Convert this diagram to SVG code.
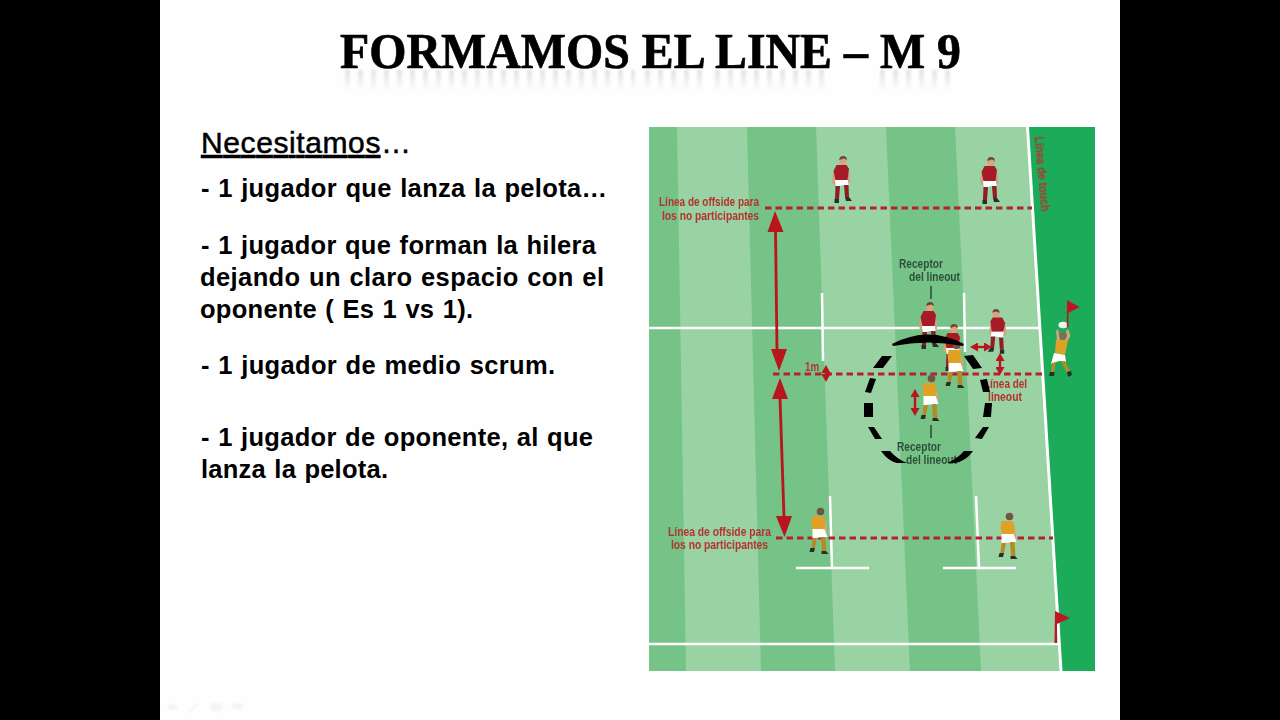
<svg xmlns="http://www.w3.org/2000/svg" width="1280" height="720" viewBox="0 0 1280 720">
<style>
.body{font-family:"Liberation Sans",Arial,sans-serif;font-weight:700;font-size:25.500px;word-spacing:1px;fill:#000}
.title{font-family:"Liberation Serif","Times New Roman",serif;font-weight:700;font-size:50px;stroke:#000;stroke-width:.7}
.lab{font-family:"Liberation Sans",Arial,sans-serif;font-weight:700;font-size:12.500px}
.red{fill:#b5332f}.dk{fill:#2f4f3c}
.dash{stroke:#b5202f;stroke-width:3;stroke-dasharray:6.500 4;fill:none}
.wl{stroke:#fff;stroke-width:2.500;fill:none}
.ar{stroke:#b8141f;stroke-width:2.800;fill:none}
.arf{fill:#b8141f}
.sa{stroke:#b8141f;stroke-width:2.400;fill:none;marker-start:url(#sh);marker-end:url(#sh)}
.tick{stroke:#2f4f3c;stroke-width:1.600}
</style>
<defs>
<marker id="sh" markerWidth="8" markerHeight="9" refX="4" refY="4.500" orient="auto-start-reverse" markerUnits="userSpaceOnUse" viewBox="0 0 8 9"><path d="M0 0L8 4.500L0 9Z" fill="#b8141f"/></marker>
<linearGradient id="rf" gradientUnits="userSpaceOnUse" x1="0" y1="70" x2="0" y2="92"><stop offset="0" stop-color="#777" stop-opacity=".2"/><stop offset="1" stop-color="#777" stop-opacity="0"/></linearGradient>
<filter id="soft" x="-2%" y="-2%" width="104%" height="104%"><feGaussianBlur stdDeviation="0.45"/></filter>
<filter id="blur1" x="-5%" y="-20%" width="110%" height="140%"><feGaussianBlur stdDeviation="0.8"/></filter>
<filter id="blurR" filterUnits="userSpaceOnUse" x="330" y="60" width="640" height="40"><feGaussianBlur stdDeviation="1.200"/></filter>
<g id="pr">
<path d="M-2 8L4 8L4 11L-2 11Z" fill="#d9a57f"/>
<circle cx="2" cy="4.500" r="3.800" fill="#d9a57f"/><path d="M-1.800 4Q-1.500 0 2 0Q6 0 5.800 4L3 2.500Z" fill="#6b4a35"/>
<path d="M-5 10L-8.500 20L-8.500 28L-6 28L-5 20ZM6 11L9 20L9 27L6.500 27L5 20Z" fill="#d2a07d"/>
<path d="M-4.500 9L5.500 9L8 13L6.500 24L-5.500 24L-7.500 15Z" fill="#a51c28"/>
<path d="M-6 24L7 24L7.500 30L2 29L-5 31Z" fill="#fff"/>
<path d="M-5.500 30L-1 30L-2 43L-6 43ZM3 29L7.500 29L8 41L4 41Z" fill="#8f1a25"/>
<path d="M-6.500 43L-2 43L-2 47L-6.500 47ZM4 41L8 41L11 45L5 45Z" fill="#2a2f2b"/>
</g>
<g id="py">
<circle cx="1.500" cy="4.500" r="3.800" fill="#6e5643"/>
<path d="M4 11L7.500 18L8.500 27L6.500 27L4.500 20Z" fill="#d9a57f"/>
<path d="M-6.500 9L4.500 9L6.500 14L5.500 23L-6.500 23L-7.500 15Z" fill="#dfa126"/>
<path d="M-6.500 22L5.500 22L8.500 30L-6.500 31Z" fill="#fff"/>
<path d="M-6.500 31L-2 31L-4 41L-7.500 41ZM2 30L6.500 30L7.500 44L3 44Z" fill="#b48c28"/>
<path d="M-8.500 41L-4 41L-5 45L-9.500 45ZM2.500 44L7 44L9.500 47L2.500 47Z" fill="#2a2f2b"/>
</g>
</defs>
<rect width="1280" height="720" fill="#000"/>
<rect x="160" width="960" height="720" fill="#fefefe"/>
<g id="title">
<path d="M345 81H635M645 81H705M715 81H830M880 81H955" stroke="url(#rf)" stroke-width="22" stroke-dasharray="5 8" fill="none" filter="url(#blurR)"/>
<text class="title" x="340" y="68" textLength="621" lengthAdjust="spacingAndGlyphs">FORMAMOS EL LINE – M 9</text>
</g>
<g id="text">
<text class="body" x="201" y="153" style="font-weight:400;font-size:30px;word-spacing:0;stroke:#000;stroke-width:.5;text-decoration-thickness:3px" textLength="210" lengthAdjust="spacing"><tspan text-decoration="underline">Necesitamos</tspan>…</text>
<text class="body" x="201" y="196.500" textLength="406" lengthAdjust="spacing">- 1 jugador que lanza la pelota…</text>
<text class="body" x="201" y="254" textLength="395" lengthAdjust="spacing">- 1 jugador que forman la hilera</text>
<text class="body" x="200" y="286" textLength="404" lengthAdjust="spacing">dejando un claro espacio con el</text>
<text class="body" x="200" y="318" textLength="273" lengthAdjust="spacing">oponente ( Es 1 vs 1).</text>
<text class="body" x="201" y="374" textLength="354" lengthAdjust="spacing">- 1 jugador de medio scrum.</text>
<text class="body" x="201" y="446" textLength="392" lengthAdjust="spacing">- 1 jugador de oponente, al que</text>
<text class="body" x="201" y="478" textLength="187" lengthAdjust="spacing">lanza la pelota.</text>
</g>
<g id="nav" fill="#f4f4f4" filter="url(#blur1)">
<path d="M167 707L172 703L172 705L178 705L178 709L172 709L172 711Z"/>
<path d="M188 711L197 703L199 704L190 712Z"/>
<rect x="211" y="703" width="11" height="8"/>
<path d="M232 703L238 703L238 701L244 707L238 711L238 709L232 709Z"/>
</g>
<g id="field" filter="url(#soft)">
<rect x="649" y="127" width="446" height="544" fill="#1dab58"/>
<path d="M649 127H1027L1061 671H649Z" fill="#74c386"/>
<path d="M677 127H747L761 671H686ZM816 127H886L910 671H835ZM955 127H1027L1061 671H981Z" fill="#99d2a3"/>
<g class="wl">
<path d="M1027.500 127L1061 671" stroke-width="3"/>
<path d="M649 328H1040M649 644H1058"/>
<path d="M822 293L823 361M964 293L965 352M830 496L832 568M976 496L979 568M796 568H869M943 568H1016"/>
</g>
</g>
<g id="labels" filter="url(#soft)">
<text class="lab red" x="659" y="206" textLength="100" lengthAdjust="spacingAndGlyphs">Línea de offside para</text>
<text class="lab red" x="662" y="220" textLength="97" lengthAdjust="spacingAndGlyphs">los no participantes</text>
<text class="lab red" x="668" y="535.500" textLength="103" lengthAdjust="spacingAndGlyphs">Línea de offside para</text>
<text class="lab red" x="671" y="549" textLength="97" lengthAdjust="spacingAndGlyphs">los no participantes</text>
<text class="lab red" transform="translate(1034.500 137) rotate(85)" textLength="75" lengthAdjust="spacingAndGlyphs">Línea de touch</text>
<text class="lab dk" x="899" y="267.500" textLength="44" lengthAdjust="spacingAndGlyphs">Receptor</text>
<text class="lab dk" x="909" y="281" textLength="51" lengthAdjust="spacingAndGlyphs">del lineout</text>
<text class="lab dk" x="897" y="450.500" textLength="44" lengthAdjust="spacingAndGlyphs">Receptor</text>
<text class="lab dk" x="906" y="464" textLength="51" lengthAdjust="spacingAndGlyphs">del lineout</text>
<text class="lab red" x="805" y="371" textLength="14" lengthAdjust="spacingAndGlyphs">1m</text>
<text class="lab red" x="984" y="387.500" textLength="43" lengthAdjust="spacingAndGlyphs">Línea del</text>
<text class="lab red" x="988" y="401" textLength="34" lengthAdjust="spacingAndGlyphs">lineout</text>
</g>
<g id="connectors-lines" filter="url(#soft)">
<path class="dash" d="M765 208H1032M773 374H1042M776 538H1053"/>
</g>
<g id="players" filter="url(#soft)">
<use id="player-r1" href="#pr" x="841" y="156"/>
<use id="player-r2" href="#pr" x="989" y="157"/>
<use id="player-r3" href="#pr" x="928" y="302"/>
<use id="player-r4" href="#pr" x="952" y="324"/>
<use id="player-r5" href="#pr" transform="translate(998 309) scale(-.950 .950)"/>
<use id="player-y1" href="#py" x="955" y="341"/>
<use id="player-y2" href="#py" x="930" y="374"/>
<use id="player-y3" href="#py" x="819" y="507"/>
<use id="player-y4" href="#py" x="1008" y="512"/>
<g id="thrower">
<path d="M1057 340L1056 331L1058 329L1060 340ZM1068 340L1070.500 336L1068 329L1066 331L1067 336L1065 340Z" fill="#d9a57f"/>
<circle cx="1063" cy="336" r="3.600" fill="#8a6a50"/>
<path d="M1056 340L1068 340L1065 355L1055 353Z" fill="#dfa126"/>
<ellipse cx="1063" cy="325" rx="4.500" ry="3.200" fill="#f2f2f2"/>
<path d="M1054 353L1065 355L1066 362L1059 361L1051 364Z" fill="#fff"/>
<path d="M1052 363L1056 362L1054 372L1051 372ZM1061 361L1065 361L1070 371L1067 373Z" fill="#b48c28"/>
<path d="M1050 372L1054.500 372L1054 376L1049 376ZM1067 372L1071 371L1072 375L1068 377Z" fill="#2a2f2b"/>
</g>
</g>
<g id="connectors" filter="url(#soft)">
<path class="ar" d="M775.500 230L777 350M780 398L784 517"/>
<path class="arf" d="M775 211L783.500 232L767.500 232ZM779 371L771 349L787 349ZM780 378L788 399L772 399ZM784.500 537L776 516L792 516Z"/>
<path class="sa" d="M974 347H988"/>
<path class="sa" d="M1000 357V371"/>
<path class="sa" d="M915 393V412"/>
<path class="sa" d="M826 369V378"/>
<path class="tick" d="M931 286V299M931 425V438"/>
</g>
<g id="flags" filter="url(#soft)">
<path d="M1067 300L1079.500 307L1068.500 313L1068.500 327L1066.800 327Z" fill="#c01824"/>
<path d="M1055 611L1070 618L1057 624L1057 643L1054.500 643Z" fill="#c01824"/>
</g>
<g id="circle" fill="#000" filter="url(#soft)">
<path d="M892 344Q928 325 964 344L963 346Q928 339 893 346Z"/>
<path d="M873 368L883 368L892 356L882 356Z"/>
<path d="M865 392L871 393L876 379L870 378Z"/>
<path d="M864 403H873V417H864Z"/>
<path d="M868 427L874 427L882 439L875 439Z"/>
<path d="M881 451Q888 461 897 463L907 463Q897 459 890 451Z"/>
<path d="M973 451Q966 461 955 463L947 463Q957 459 964 451Z"/>
<path d="M964 356L973 355L982 368L973 369Z"/>
<path d="M980 380L987 379L990 392L983 392Z"/>
<path d="M985 403L992 403L991 417L983 417Z"/>
<path d="M983 427L989 427L982 439L975 438Z"/>
</g>
</svg>
